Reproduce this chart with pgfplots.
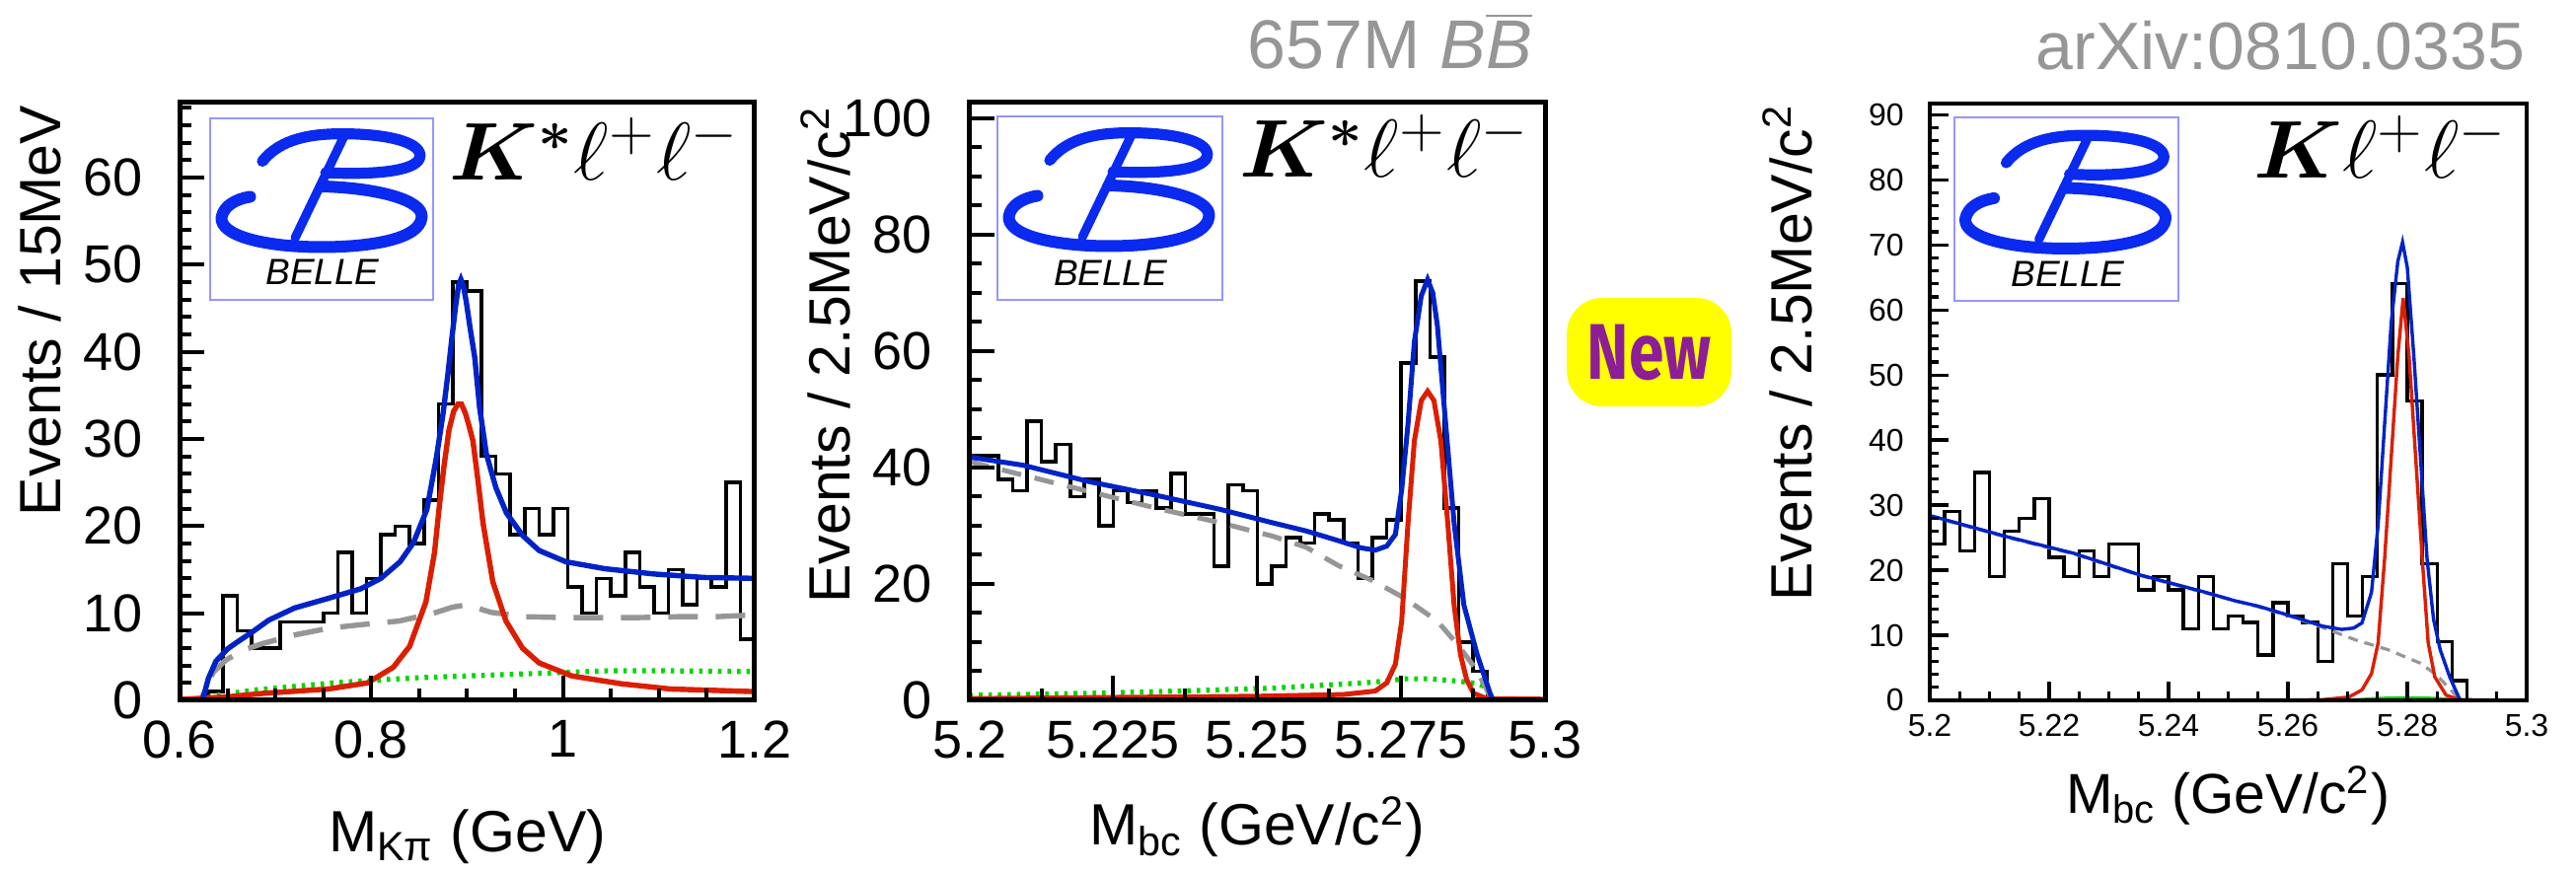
\documentclass[border=0pt]{standalone}
\usepackage{fontspec}
\setmainfont{Liberation Sans}
\newfontfamily\badgefont{Fira Sans}
\usepackage{graphicx}
\usepackage{bm}
\usepackage{pgfplots}
\pgfplotsset{compat=1.18}

\definecolor{fitblue}{RGB}{0,35,200}
\definecolor{sigred}{RGB}{220,30,0}
\definecolor{bkggray}{RGB}{150,150,150}
\definecolor{peakgreen}{RGB}{0,215,0}
\definecolor{basepurple}{RGB}{150,50,255}
\definecolor{belleblue}{RGB}{10,42,240}
\definecolor{boxblue}{RGB}{150,150,255}
\definecolor{hdrgray}{RGB}{150,150,150}
\definecolor{newpurple}{RGB}{140,30,150}
\definecolor{newyellow}{RGB}{255,255,0}

\pgfplotsset{
  bellestyle/.style={
    scale only axis,
    anchor=south west,
    axis on top,
    axis line style={line width=1.25pt},
    tick pos=left,
    tick align=inside,
    major tick length=6.25pt,
    minor tick length=3pt,
    tick style={black, line width=1pt},
    /pgf/number format/assume math mode=true,
    tick label style={font=\fontsize{13.5}{16}\selectfont},
    yticklabel style={anchor=east, inner sep=0pt},
    xticklabel style={anchor=north, inner sep=0pt},
    ymin=0,
  },
  histo/.style={const plot mark left, black, line width=0.9pt, no marks},
}

% Belle logo "B" drawn in a 51.75pt x 29pt frame centred at (#1,#2)
\newcommand{\belleB}[2]{%
  \begin{scope}[shift={(#1-25.875pt,#2-14.5pt)}, x=51.75pt, y=29pt, belleblue, line cap=round, line join=round]
    \draw[line width=2.8pt] (0.21,0.75) .. controls (0.30,0.95) and (0.45,0.99) .. (0.60,0.99) .. controls (0.85,0.99) and (1.0,0.90) .. (0.98,0.78) .. controls (0.96,0.66) and (0.75,0.63) .. (0.52,0.65);
    \draw[line width=2.3pt] (0.61,0.97) -- (0.37,0.08);
    \draw[line width=3.0pt] (0.50,0.53) .. controls (0.75,0.52) and (1.0,0.42) .. (0.99,0.26) .. controls (0.98,0.06) and (0.72,0.0) .. (0.50,0.0) .. controls (0.22,0.0) and (0.0,0.10) .. (0.01,0.26) .. controls (0.02,0.36) and (0.08,0.42) .. (0.15,0.44);
  \end{scope}}

\begin{document}
\begin{tikzpicture}
\path[use as bounding box] (0,0) rectangle (652.75pt,221pt);

% ---------------- Panel 1 -----------------
\begin{axis}[bellestyle,
  at={(45.5pt,43.5pt)}, width=145.75pt, height=151.5pt,
  xmin=0.6, xmax=1.2, ymax=68.6,
  xtick={0.6,0.8,1.0,1.2}, xticklabels={0.6,0.8,1,1.2},
  minor xtick={0.65,0.7,0.75,0.85,0.9,0.95,1.05,1.1,1.15},
  ytick={0,10,...,60}, minor ytick={2,4,...,68},
  yticklabel style={xshift=-9.25pt},
  xticklabel style={yshift=-5pt},
]
\addplot[histo] coordinates {(0.600,0)(0.615,0)(0.630,1)(0.645,12)(0.660,8)(0.675,6)(0.690,6)(0.705,9)(0.720,9)(0.735,9)(0.750,10)(0.765,17)(0.780,10)(0.795,14)(0.810,19)(0.825,20)(0.840,18)(0.855,23)(0.870,34)(0.885,48)(0.900,47)(0.915,28)(0.930,26)(0.945,19)(0.960,22)(0.975,19)(0.990,22)(1.005,13)(1.020,10)(1.035,14)(1.050,12)(1.065,17)(1.080,13)(1.095,10)(1.110,15)(1.125,11)(1.140,14)(1.155,13)(1.170,25)(1.185,7)(1.200,7)};
\addplot[basepurple, line width=1pt, no marks] coordinates {(0.6,0)(1.2,0)};
\addplot[peakgreen, line width=1.3pt, dash pattern=on 0.9pt off 1.5pt, no marks] coordinates {(0.620,0)(0.640,0.6)(0.680,1.2)(0.720,1.6)(0.760,2.0)(0.800,2.3)(0.850,2.6)(0.900,2.8)(0.950,3.0)(1.000,3.2)(1.050,3.4)(1.100,3.4)(1.150,3.35)(1.200,3.3)};
\addplot[bkggray, line width=1.35pt, dash pattern=on 7.5pt off 4.5pt, no marks] coordinates {(0.600,0)(0.622,0)(0.628,1.5)(0.635,3.2)(0.648,4.6)(0.665,5.7)(0.686,6.5)(0.722,7.55)(0.757,8.3)(0.791,8.7)(0.829,9.1)(0.865,10.0)(0.885,10.7)(0.896,10.9)(0.910,10.6)(0.925,10.1)(0.960,9.6)(1.000,9.5)(1.080,9.5)(1.120,9.6)(1.160,9.6)(1.200,9.8)};
\addplot[sigred, line width=1.35pt, no marks] coordinates {(0.600,0.1)(0.650,0.4)(0.687,0.8)(0.755,1.3)(0.796,2.0)(0.823,3.8)(0.840,6.2)(0.857,11.3)(0.866,17.0)(0.871,22.3)(0.876,27.0)(0.881,31.0)(0.886,33.2)(0.8905,34.0)(0.894,34.0)(0.898,33.0)(0.902,31.5)(0.906,29.8)(0.911,25.5)(0.9165,20.4)(0.9268,13.6)(0.9405,9.1)(0.9577,6.0)(0.975,4.3)(1.0093,2.8)(1.0608,1.9)(1.1124,1.3)(1.200,1.0)};
\addplot[fitblue, line width=1.35pt, no marks] coordinates {(0.624,0)(0.630,2.5)(0.638,4.5)(0.650,5.9)(0.659,6.6)(0.674,7.7)(0.693,9.2)(0.720,10.6)(0.755,11.7)(0.789,12.8)(0.810,14.0)(0.830,15.9)(0.844,18.1)(0.858,21.9)(0.868,27.9)(0.875,33.0)(0.880,37.5)(0.884,41.5)(0.888,45.3)(0.891,47.6)(0.8935,48.3)(0.896,47.6)(0.899,45.8)(0.903,42.8)(0.908,39.3)(0.913,33.6)(0.920,28.3)(0.930,24.4)(0.941,21.5)(0.958,18.9)(0.975,17.2)(1.003,15.9)(1.044,15.1)(1.095,14.5)(1.147,14.1)(1.200,14.0)};
\end{axis}

% ---------------- Panel 2 -----------------
\begin{axis}[bellestyle,
  at={(245.65pt,43.5pt)}, width=145.85pt, height=151.5pt,
  xmin=5.2, xmax=5.3, ymax=102.7,
  xtick={5.2,5.225,5.25,5.275,5.3}, xticklabels={5.2,5.225,5.25,5.275,5.3},
  minor xtick={5.2125,5.2375,5.2625,5.2875},
  ytick={0,20,...,100}, minor ytick={5,10,...,100},
  yticklabel style={xshift=-9.25pt},
  xticklabel style={yshift=-5pt},
]
\addplot[histo] coordinates {(5.2000,42)(5.2025,42)(5.2050,38)(5.2075,36)(5.2100,48)(5.2125,41)(5.2150,44)(5.2175,35)(5.2200,38)(5.2225,30)(5.2250,36)(5.2275,34)(5.2300,36)(5.2325,33)(5.2350,39)(5.2375,32)(5.2400,32)(5.2425,23)(5.2450,37)(5.2475,36)(5.2500,20)(5.2525,23)(5.2550,28)(5.2575,27)(5.2600,32)(5.2625,31)(5.2650,27)(5.2675,21)(5.2700,28)(5.2725,31)(5.2750,58)(5.2775,72)(5.2800,59)(5.2825,33)(5.2850,10)(5.2875,5)(5.2900,0)(5.2925,0)(5.2950,0)(5.2975,0)(5.3000,0)};
\addplot[basepurple, line width=1pt, no marks] coordinates {(5.2,0)(5.29,0)};
\addplot[peakgreen, line width=1.3pt, dash pattern=on 0.9pt off 1.5pt, no marks] coordinates {(5.2000,0.85)(5.2200,1.2)(5.2400,1.7)(5.2527,2.1)(5.2650,2.8)(5.2700,3.1)(5.2757,3.7)(5.2800,3.7)(5.2850,3.3)(5.2880,2.9)(5.2899,2.3)(5.2905,0)};
\addplot[bkggray, line width=1.25pt, dash pattern=on 5pt off 3.5pt, no marks] coordinates {(5.2000,41.0)(5.2093,38.7)(5.2207,35.9)(5.2321,33.1)(5.2436,30.5)(5.2527,28.2)(5.2585,26.3)(5.2642,23.1)(5.2700,20.6)(5.2757,17.5)(5.2813,13.6)(5.2848,9.6)(5.2882,5.1)(5.2905,0.6)(5.2910,0)(5.3000,0)};
\addplot[sigred, line width=1.25pt, no marks] coordinates {(5.2000,0.3)(5.2500,0.7)(5.2650,1.0)(5.2705,1.6)(5.2725,3.0)(5.2740,6.2)(5.2751,13.6)(5.2762,30.5)(5.2773,44.6)(5.2785,51.5)(5.2796,53.1)(5.2807,51.5)(5.2819,44.6)(5.2831,30.5)(5.2842,16.4)(5.2853,7.9)(5.2864,3.5)(5.2876,1.2)(5.2899,0.3)(5.3000,0.2)};
\addplot[fitblue, line width=1.25pt, no marks] coordinates {(5.2000,41.8)(5.2093,40.4)(5.2207,37.6)(5.2321,35.3)(5.2436,32.8)(5.2527,30.5)(5.2585,29.1)(5.2642,27.4)(5.2680,26.2)(5.2705,25.8)(5.2725,26.5)(5.2740,28.5)(5.2751,36.2)(5.2762,47.5)(5.2773,61.6)(5.2785,69.5)(5.2796,72.3)(5.2805,70.0)(5.2813,64.4)(5.2825,50.3)(5.2842,30.5)(5.2859,16.4)(5.2882,7.9)(5.2905,1.1)(5.2910,0)};
\end{axis}

% ---------------- Panel 3 -----------------
\begin{axis}[bellestyle,
  at={(489pt,43.5pt)}, width=151.25pt, height=151.25pt,
  xmin=5.2, xmax=5.3, ymax=91.7,
  axis line style={line width=1pt},
  tick style={black, line width=0.8pt},
  major tick length=4.75pt, minor tick length=2.25pt,
  tick label style={font=\fontsize{8}{10}\selectfont},
  xtick={5.2,5.22,5.24,5.26,5.28,5.3}, xticklabels={5.2,5.22,5.24,5.26,5.28,5.3},
  minor xtick={5.205,5.21,5.215,5.225,5.23,5.235,5.245,5.25,5.255,5.265,5.27,5.275,5.285,5.29,5.295},
  ytick={0,10,...,90}, minor ytick={2,4,...,90},
  yticklabel style={xshift=-6.4pt},
  xticklabel style={yshift=-3.25pt},
]
\addplot[histo, line width=0.85pt] coordinates {(5.2000,24)(5.2025,29)(5.2050,23)(5.2075,35)(5.2100,19)(5.2125,26)(5.2150,28)(5.2175,31)(5.2200,22)(5.2225,19)(5.2250,23)(5.2275,19)(5.2300,24)(5.2325,24)(5.2350,17)(5.2375,19)(5.2400,17)(5.2425,11)(5.2450,19)(5.2475,11)(5.2500,13)(5.2525,12)(5.2550,7)(5.2575,15)(5.2600,13)(5.2625,12)(5.2650,6)(5.2675,21)(5.2700,13)(5.2725,19)(5.2750,50)(5.2775,64)(5.2800,46)(5.2825,21)(5.2850,9)(5.2875,3)(5.2900,0)(5.2925,0)(5.2950,0)(5.2975,0)(5.3000,0)};
\addplot[peakgreen, line width=0.8pt, no marks] coordinates {(5.2,0)(5.27,0)(5.275,0.3)(5.28,0.4)(5.285,0.3)(5.289,0)(5.3,0)};
\addplot[sigred, line width=0.8pt, dash pattern=on 2pt off 2pt, no marks] coordinates {(5.2,0)(5.3,0)};
\addplot[bkggray, line width=0.8pt, dash pattern=on 2.5pt off 1.75pt, no marks] coordinates {(5.2000,28.3)(5.2131,25.0)(5.2241,22.5)(5.2351,19.2)(5.2462,16.5)(5.2549,14.4)(5.2604,12.9)(5.2658,11.2)(5.2713,9.3)(5.2767,7.8)(5.2822,5.7)(5.2849,3.9)(5.2876,1.3)(5.2889,0)(5.3000,0)};
\addplot[sigred, line width=0.85pt, no marks] coordinates {(5.2000,0)(5.2600,0.05)(5.2658,0.1)(5.2702,0.5)(5.2724,1.6)(5.2740,4.1)(5.2751,8.8)(5.2762,21.8)(5.2773,37.3)(5.2784,52.8)(5.2793,61.8)(5.2803,52.8)(5.2814,37.3)(5.2825,21.8)(5.2835,8.8)(5.2846,3.6)(5.2865,0.8)(5.2887,0.1)(5.3000,0)};
\addplot[fitblue, line width=0.85pt, no marks] coordinates {(5.2000,28.4)(5.2131,25.1)(5.2241,22.6)(5.2351,19.3)(5.2462,16.6)(5.2511,15.3)(5.2549,14.5)(5.2604,13.0)(5.2658,11.4)(5.2690,10.9)(5.2710,11.1)(5.2724,11.9)(5.2740,16.6)(5.2751,26.9)(5.2762,42.5)(5.2773,58.0)(5.2784,67.4)(5.2792,70.4)(5.2800,66.5)(5.2811,52.8)(5.2822,37.3)(5.2833,21.8)(5.2844,12.4)(5.2855,7.8)(5.2871,3.6)(5.2887,0.3)(5.2890,0)};
\end{axis}

% ---------------- Labels -----------------
\node[rotate=90, anchor=base east, inner sep=0pt, font=\fontsize{14.75}{17}\selectfont] at (15.25pt,194.5pt) {Events / 15MeV};
\node[rotate=90, anchor=base east, inner sep=0pt, font=\fontsize{14.75}{17}\selectfont] at (215.25pt,194.25pt) {Events / 2.5MeV/c\textsuperscript{2}};
\node[rotate=90, anchor=base east, inner sep=0pt, font=\fontsize{14.75}{17}\selectfont] at (459pt,194.75pt) {Events / 2.5MeV/c\textsuperscript{2}};

\node[anchor=base, inner sep=0pt, font=\fontsize{14.75}{17}\selectfont] at (118.4pt,5pt) {M\textsubscript{Kπ} (GeV)};
\node[anchor=base, inner sep=0pt, font=\fontsize{14.75}{17}\selectfont] at (318.5pt,6.75pt) {M\textsubscript{bc} (GeV/c\textsuperscript{2})};
\node[anchor=base, inner sep=0pt, font=\fontsize{14.25}{17}\selectfont] at (564.5pt,14.75pt) {M\textsubscript{bc} (GeV/c\textsuperscript{2})};

% headers
\node[anchor=base east, inner sep=0pt, text=hdrgray, font=\fontsize{17.5}{20}\selectfont] at (388.4pt,203.5pt) {657M \textit{B}$\overline{\mbox{\textit{B}}}$};
\node[anchor=base east, inner sep=0pt, text=hdrgray, font=\fontsize{17}{20}\selectfont] at (640pt,203.25pt) {arXiv:0810.0335};

% New badge
\node[fill=newyellow, rounded corners=9pt, minimum width=41.75pt, minimum height=27.5pt, inner sep=0pt] at (417.9pt,131.75pt) {};
\node[inner sep=0pt, text=newpurple, font=\badgefont\bfseries\fontsize{20}{22}\selectfont] at (417.9pt,131.75pt) {\scalebox{0.8}[1]{New}};

% Belle logos
\draw[boxblue, line width=0.5pt] (53.125pt,145pt) rectangle (109.75pt,190.875pt);
\draw[boxblue, line width=0.5pt] (252.675pt,144.875pt) rectangle (309.675pt,191.5pt);
\draw[boxblue, line width=0.5pt] (495.25pt,144.75pt) rectangle (552pt,191.25pt);
\belleB{81.5pt}{172.875pt}
\belleB{281pt}{173.125pt}
\belleB{523.375pt}{172.5pt}
\node[anchor=base, inner sep=0pt, font=\itshape\fontsize{9.25}{11}\selectfont] at (81.75pt,148.75pt) {BELLE};
\node[anchor=base, inner sep=0pt, font=\itshape\fontsize{9.25}{11}\selectfont] at (281.4pt,148.5pt) {BELLE};
\node[anchor=base, inner sep=0pt, font=\itshape\fontsize{9.25}{11}\selectfont] at (524pt,148.25pt) {BELLE};

% decay channel labels
\node[anchor=base east, inner sep=0pt, font=\fontsize{20}{22}\selectfont] at (187.5pt,175.4pt) {\scalebox{1.04}[1]{$\bm{K}^{\bm{*}}\ell^{+}\ell^{-}$}};
\node[anchor=base east, inner sep=0pt, font=\fontsize{20}{22}\selectfont] at (387.75pt,176pt) {\scalebox{1.04}[1]{$\bm{K}^{\bm{*}}\ell^{+}\ell^{-}$}};
\node[anchor=base east, inner sep=0pt, font=\fontsize{20}{22}\selectfont] at (635.6pt,175.75pt) {\scalebox{1.04}[1]{$\bm{K}\ell^{+}\ell^{-}$}};
\end{tikzpicture}
\end{document}
